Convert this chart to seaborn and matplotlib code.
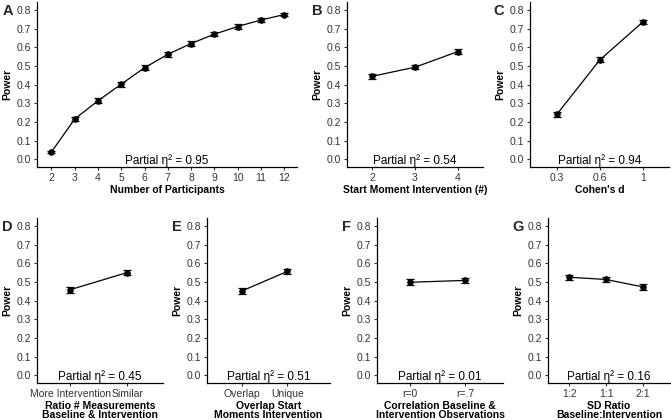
import matplotlib
matplotlib.use("Agg")
import matplotlib.pyplot as plt
import numpy as np
import pandas as pd
import seaborn as sns

# Panel A - number of participants
participants = ["2", "3", "4", "5", "6", "7", "8", "9", "10", "11", "12"]
power_a = [0.038, 0.215, 0.313, 0.402, 0.490, 0.562, 0.620, 0.670, 0.711, 0.746, 0.775]
err_a = [0.004, 0.012, 0.013, 0.013, 0.013, 0.012, 0.012, 0.011, 0.011, 0.010, 0.009]

# Panel B - start moment intervention
start_moments = ["2", "3", "4"]
power_b = [0.444, 0.493, 0.577]
err_b = [0.012, 0.012, 0.013]

# Panel C - Cohen's d
cohens_d = ["0.3", "0.6", "1"]
power_c = [0.240, 0.533, 0.737]
err_c = [0.014, 0.014, 0.010]

# Panel D - ratio of measurements
ratio_labels = ["More Intervention", "Similar"]
power_d = [0.458, 0.550]
err_d = [0.015, 0.014]

# Panel E - overlap start moments
overlap_labels = ["Overlap", "Unique"]
power_e = [0.452, 0.556]
err_e = [0.015, 0.014]

# Panel F - correlation baseline & intervention
corr_labels = ["r=0", "r=.7"]
power_f = [0.498, 0.508]
err_f = [0.015, 0.014]

# Panel G - SD ratio
sd_labels = ["1:2", "1:1", "2:1"]
power_g = [0.525, 0.513, 0.473]
err_g = [0.013, 0.014, 0.014]

eta_values = ["0.95", "0.54", "0.94", "0.45", "0.51", "0.01", "0.16"]

sns.set_style("ticks")
plt.rcParams["font.family"] = ["Liberation Sans", "DejaVu Sans"]

TXT = "#333333"


def draw_panel(fig, rect, letter, cats, vals, errs, xlabel, eta, letter_x,
               xpad=(0.6, 0.6)):
    ax = fig.add_axes(rect)
    df = pd.DataFrame({"x": cats, "y": vals})
    sns.pointplot(data=df, x="x", y="y", order=cats, color="black",
                  errorbar=None, markersize=4, linewidth=0.9, ax=ax)
    ax.errorbar(np.arange(len(cats)), vals, yerr=errs, fmt="none",
                ecolor="black", elinewidth=0.9, capsize=3, capthick=0.9)
    ax.set_xlim(-xpad[0], len(cats) - 1 + xpad[1])
    ax.set_ylim(-0.042, 0.84)
    ticks = np.arange(0, 0.81, 0.1)
    ax.set_yticks(ticks)
    ax.set_yticklabels([f"{v:.1f}" for v in ticks])
    sns.despine(ax=ax)
    for sp in ("left", "bottom"):
        ax.spines[sp].set_linewidth(0.9)
        ax.spines[sp].set_color("black")
    ax.tick_params(axis="both", labelsize=7.5, labelcolor=TXT, color=TXT,
                   length=2.5, width=0.8, pad=2)
    ax.set_xlabel(xlabel, fontsize=7.5, fontweight="bold", color="black",
                  labelpad=1, linespacing=0.88)
    ax.set_ylabel("Power", fontsize=7.5, fontweight="bold", color="black",
                  labelpad=3)
    ax.text(0.5, 0.0, "Partial η² = " + eta, transform=ax.transAxes,
            ha="center", va="bottom", fontsize=8.5, color="black")
    top = rect[1] + rect[3]
    fig.text(letter_x, top - 0.004, letter, fontsize=10.5, fontweight="bold",
             ha="left", va="top")
    return ax


fig = plt.figure(figsize=(6.71, 4.2), dpi=100)

top_y, top_h = 0.6024, 0.3917
bot_y, bot_h = 0.0881, 0.3917

draw_panel(fig, [0.0551, top_y, 0.3875, top_h], "A", participants, power_a, err_a,
           "Number of Participants", eta_values[0], 0.0045, (0.62, 0.55))
draw_panel(fig, [0.5171, top_y, 0.2027, top_h], "B", start_moments, power_b, err_b,
           "Start Moment Intervention (#)", eta_values[1], 0.465, (0.58, 0.58))
draw_panel(fig, [0.7899, top_y, 0.2072, top_h], "C", cohens_d, power_c, err_c,
           "Cohen's d", eta_values[2], 0.735, (0.62, 0.6))

draw_panel(fig, [0.0551, bot_y, 0.1878, bot_h], "D", ratio_labels, power_d, err_d,
           "Ratio # Measurements\nBaseline & Intervention", eta_values[3], 0.003,
           (0.58, 0.63))
draw_panel(fig, [0.3085, bot_y, 0.1833, bot_h], "E", overlap_labels, power_e, err_e,
           "Overlap Start\nMoments Intervention", eta_values[4], 0.256, (0.78, 0.95))
draw_panel(fig, [0.5618, bot_y, 0.1878, bot_h], "F", corr_labels, power_f, err_f,
           "Correlation Baseline &\nIntervention Observations", eta_values[5], 0.51,
           (0.6, 0.69))
draw_panel(fig, [0.8167, bot_y, 0.1818, bot_h], "G", sd_labels, power_g, err_g,
           "SD Ratio\nBaseline:Intervention", eta_values[6], 0.763, (0.57, 0.73))

fig.savefig("out.png", dpi=100)
